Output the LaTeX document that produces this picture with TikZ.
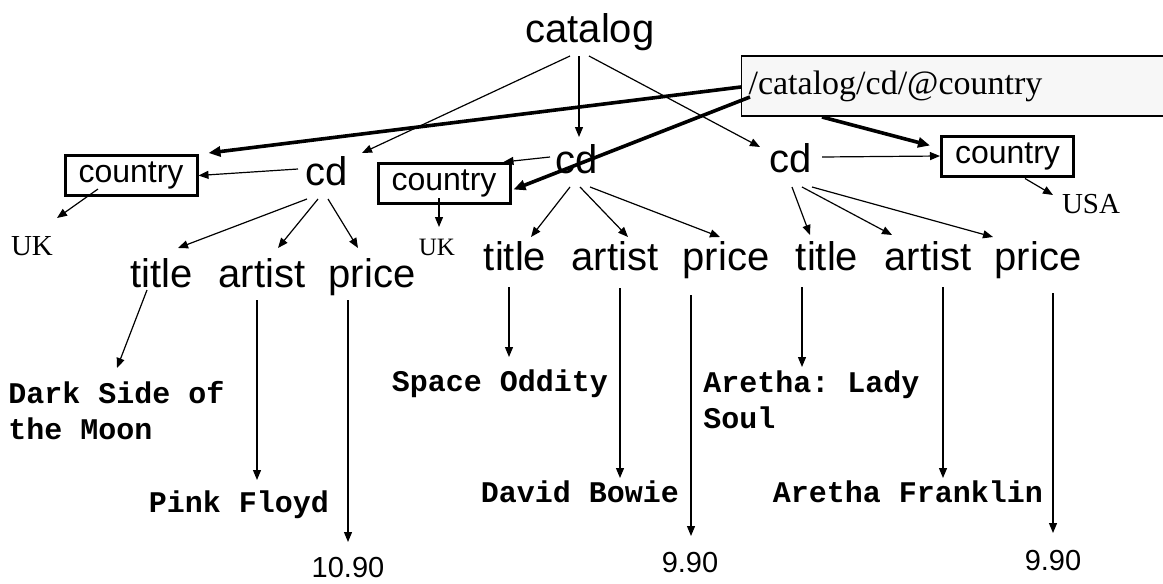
\documentclass[tikz,border=0pt]{standalone}
\usepackage{fontspec}
\setmainfont{Liberation Serif}
\setsansfont{Liberation Sans}
\setmonofont{Liberation Mono}
\usetikzlibrary{arrows.meta,calc}

\tikzset{
  tag/.style={font=\sffamily\fontsize{20}{24}\selectfont,inner sep=0pt,anchor=base},
  attr/.style={draw,line width=1.5pt,font=\sffamily\fontsize{16}{19}\selectfont,
    minimum width=66pt,minimum height=20pt,inner sep=0pt},
  val/.style={font=\rmfamily\fontsize{14.5}{17}\selectfont,inner sep=0pt,anchor=base},
  num/.style={font=\sffamily\fontsize{14.5}{17}\selectfont,inner sep=0pt,anchor=base},
  cdtext/.style={font=\ttfamily\bfseries\fontsize{15}{18}\selectfont,inner sep=0pt,align=left},
  xpath/.style={draw,fill=gray!6,line width=0.6pt,anchor=west,align=left,
    font=\rmfamily\fontsize{17}{20}\selectfont,text width=216pt,minimum height=30pt,inner xsep=3.5pt},
  edge/.style={-{Triangle[length=5pt,width=4pt]},line width=0.6pt},
  query/.style={-{Triangle[length=6pt,width=5pt]},line width=1.8pt}
}

\begin{document}
\begin{tikzpicture}[x=0.5pt,y=-0.5pt]
  \useasboundingbox (0,0) rectangle (1163,584);

  % elements
  \node[tag] (catalog) at (590,42) {catalog};
  \node[tag] (cd1) at (327,185) {cd};
  \node[tag] (cd2) at (577,173) {cd};
  \node[tag] (cd3) at (791,172) {cd};

  \node[tag] (title1)  at (162,287) {title};
  \node[tag] (artist1) at (262,287) {artist};
  \node[tag] (price1)  at (372,287) {price};
  \node[tag] (title2)  at (515,270) {title};
  \node[tag] (artist2) at (615,270) {artist};
  \node[tag] (price2)  at (726,270) {price};
  \node[tag] (title3)  at (827,270) {title};
  \node[tag] (artist3) at (928,270) {artist};
  \node[tag] (price3)  at (1038,270) {price};

  % attributes
  \node[attr] (c1) at (131,175.5) {country};
  \node[attr] (c2) at (444,183.5) {country};
  \node[attr] (c3) at (1007.5,156) {country};
  \node[val] (uk1) at (32,255) {UK};
  \node[val,font=\rmfamily\fontsize{12.5}{15}\selectfont] (uk2) at (437,255) {UK};
  \node[val] (usa) at (1091,213) {USA};

  % text content (base west = last line)
  \node[cdtext,anchor=base west] (dsm) at (8,439) {Dark Side of\\the Moon};
  \node[cdtext,anchor=base] (pf) at (239,512) {Pink Floyd};
  \node[num] (p1) at (348,577) {10.90};
  \node[cdtext,anchor=base] (so) at (500,391) {Space Oddity};
  \node[cdtext,anchor=base] (db) at (580,502) {David Bowie};
  \node[num] (p2) at (690,572) {9.90};
  \node[cdtext,anchor=base west] (als) at (703,428) {Aretha: Lady\\Soul};
  \node[cdtext,anchor=base] (af) at (908,502) {Aretha Franklin};
  \node[num] (p3) at (1053,570) {9.90};

  % the query
  \node[xpath] (xp) at (741,86) {/catalog/cd/@country};

  \draw[edge] ($(catalog.base)+(-20,14)$) -- ($(cd1.base)+(35,-32)$);
  \draw[edge] ($(catalog.base)+(-11,14)$) -- ($(cd2.base)+(2,-36)$);
  \draw[edge] ($(catalog.base)+(-1,14)$) -- ($(cd3.base)+(-31,-25)$);

  \draw[edge] ($(cd1.base)+(-29,-16)$) -- (c1.east);
  \draw[edge] ($(cd1.base)+(-20,14)$) -- ($(title1.base)+(16,-39)$);
  \draw[edge] ($(cd1.base)+(-9,14)$) -- ($(artist1.base)+(16,-39)$);
  \draw[edge] ($(cd1.base)+(1,14)$) -- ($(price1.base)+(-14,-39)$);
  \draw[edge] ($(c1.center)+(-33,13.5)$) -- ($(uk1.base)+(25,-37)$);

  \draw[edge] ($(cd2.base)+(-27,-16)$) -- ($(c2.north east)+(-8,0)$);
  \draw[edge] ($(cd2.base)+(-7,14)$) -- ($(title2.base)+(16,-33)$);
  \draw[edge] ($(cd2.base)+(3,14)$) -- ($(artist2.base)+(13,-33)$);
  \draw[edge] ($(cd2.base)+(13,14)$) -- ($(price2.base)+(-6,-33)$);
  \draw[edge] ($(c2.south)+(-5,-7)$) -- ($(uk2.base)+(2,-28)$);

  \draw[edge] ($(cd3.base)+(31,-15)$) -- (c3.west);
  \draw[edge] ($(cd3.base)+(1,15)$) -- ($(title3.base)+(-17,-35)$);
  \draw[edge] ($(cd3.base)+(11,15)$) -- ($(artist3.base)+(-36,-35)$);
  \draw[edge] ($(cd3.base)+(21,15)$) -- ($(price3.base)+(-45,-33)$);
  \draw[edge] ($(c3.south)+(17.5,1)$) -- ($(usa.base)+(-38,-18)$);

  \draw[edge] ($(title1.base)+(-15,3)$) -- ($(dsm.base west)+(109,-71)$);
  \draw[edge] ($(artist1.base)+(-5,13)$) -- ($(pf.base)+(18,-32)$);
  \draw[edge] ($(price1.base)+(-24,13)$) -- ($(p1.base)+(0,-35)$);
  \draw[edge] ($(title2.base)+(-6,17)$) -- ($(so.base)+(9,-34)$);
  \draw[edge] ($(artist2.base)+(5,18)$) -- ($(db.base)+(40,-24)$);
  \draw[edge] ($(price2.base)+(-35,25)$) -- ($(p2.base)+(1,-36)$);
  \draw[edge] ($(title3.base)+(-25,17)$) -- ($(als.base west)+(99,-61)$);
  \draw[edge] ($(artist3.base)+(15,17)$) -- ($(af.base)+(35,-24)$);
  \draw[edge] ($(price3.base)+(15,23)$) -- ($(p3.base)+(0,-37)$);

  \draw[query] ($(xp.west)+(0,1)$) -- ($(c1.north east)+(10,-1)$);
  \draw[query] ($(xp.west)+(9,11)$) -- ($(c2.east)+(2,6)$);
  \draw[query] ($(xp.west)+(81,31)$) -- ($(c3.north west)+(-10,11)$);
\end{tikzpicture}
\end{document}
